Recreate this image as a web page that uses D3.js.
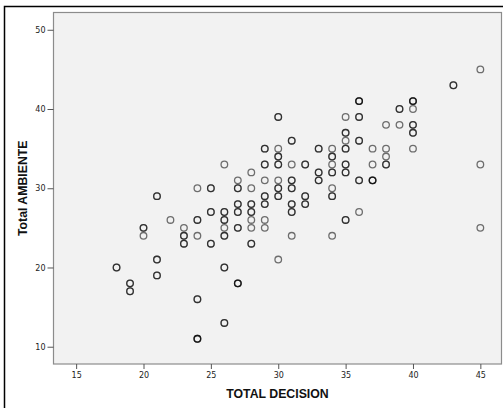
<!DOCTYPE html>
<html>
<head>
<meta charset="utf-8">
<script src="https://cdn.jsdelivr.net/npm/d3@7"></script>
<style>
  body { margin: 0; background: #fff; }
  svg { display: block; }
</style>
</head>
<body>
<div id="chart"></div>
<script>
// one entry per observation: TOTAL DECISION, Total AMBIENTE, how many cases share it
const decision = [18,19,19,20,20,21,21,21,22,23,23,23,24,24,24,24,24,25,25,25,
  26,26,26,26,26,26,26,27,27,27,27,27,27,28,28,28,28,28,28,28,
  29,29,29,29,29,29,29,30,30,30,30,30,30,30,30,31,31,31,31,31,31,31,
  32,32,32,33,33,33,34,34,34,34,34,34,34,35,35,35,35,35,35,35,
  36,36,36,36,36,37,37,37,38,38,38,38,39,39,40,40,40,40,40,43,45,45,45];
const ambiente = [20,18,17,25,24,29,21,19,26,25,24,23,30,26,24,16,11,30,27,23,
  33,27,26,25,24,20,13,31,30,28,27,25,18,32,30,28,27,26,25,23,
  35,33,31,29,28,26,25,39,35,34,33,31,30,29,21,36,33,31,30,28,27,24,
  33,29,28,35,32,31,35,34,33,32,30,29,24,39,37,36,35,33,32,26,
  41,39,36,31,27,35,33,31,38,35,34,33,40,38,41,40,38,37,35,43,45,33,25];
const cases = [2,2,2,2,1,2,2,2,1,1,2,2,1,2,1,2,3,2,2,2,
  1,2,2,1,2,2,2,1,2,2,2,2,3,1,1,2,2,1,1,2,
  2,2,1,2,2,1,1,2,1,2,2,1,2,2,1,2,1,2,2,2,2,1,
  2,2,2,2,2,2,1,2,1,2,1,2,1,1,2,1,2,2,2,2,
  3,2,2,2,1,1,1,3,1,1,1,2,2,1,3,1,2,2,1,2,1,1,1];
const xTicks = [15, 20, 25, 30, 35, 40, 45];
const yTicks = [10, 20, 30, 40, 50];

const W = 503, H = 408;
const plot = { left: 53.5, top: 12.5, right: 501.5, bottom: 364 };

const svg = d3.select("#chart").append("svg")
  .attr("width", W)
  .attr("height", H);

// outer frame
svg.append("rect")
  .attr("x", 4.5).attr("y", 6.5)
  .attr("width", W + 10).attr("height", H + 10)
  .attr("fill", "none")
  .attr("stroke", "#000")
  .attr("stroke-width", 1.5);

const x = d3.scaleLinear().domain([13.32, 46.57]).range([plot.left, plot.right]);
const y = d3.scaleLinear().domain([7.82, 52.18]).range([plot.bottom, plot.top]);

svg.append("rect")
  .attr("x", plot.left).attr("y", plot.top)
  .attr("width", plot.right - plot.left)
  .attr("height", plot.bottom - plot.top)
  .attr("fill", "#f2f2f2")
  .attr("stroke", "#8c8c8c")
  .attr("stroke-width", 1.2);

// axes
const xAxis = svg.append("g")
  .attr("transform", `translate(0,${plot.bottom})`)
  .call(d3.axisBottom(x).tickValues(xTicks).tickSize(5).tickPadding(3));
const yAxis = svg.append("g")
  .attr("transform", `translate(${plot.left},0)`)
  .call(d3.axisLeft(y).tickValues(yTicks).tickSize(6).tickPadding(2));

[xAxis, yAxis].forEach(g => {
  g.select(".domain").remove();
  g.selectAll(".tick line").attr("stroke", "#555");
  g.selectAll(".tick text")
    .attr("fill", "#222")
    .style("font-family", "DejaVu Sans, sans-serif")
    .style("font-size", "8px");
});

// points, drawn once per case so shared values come out darker
const points = [];
decision.forEach((d, i) => {
  for (let k = 0; k < cases[i]; k++) points.push([d, ambiente[i]]);
});

svg.append("g")
  .selectAll("circle")
  .data(points)
  .join("circle")
  .attr("cx", d => x(d[0]))
  .attr("cy", d => y(d[1]))
  .attr("r", 3.3)
  .attr("fill", "none")
  .attr("stroke", "#000")
  .attr("stroke-opacity", 0.55)
  .attr("stroke-width", 1.3);

// axis titles
svg.append("text")
  .attr("x", (plot.left + plot.right) / 2)
  .attr("y", 398)
  .attr("text-anchor", "middle")
  .style("font-family", "Liberation Sans, Arial, sans-serif")
  .style("font-weight", "bold")
  .style("font-size", "12.3px")
  .attr("fill", "#111")
  .text("TOTAL DECISION");

svg.append("text")
  .attr("transform", `translate(27,${y(30)}) rotate(-90)`)
  .attr("text-anchor", "middle")
  .style("font-family", "Liberation Sans, Arial, sans-serif")
  .style("font-weight", "bold")
  .style("font-size", "12.3px")
  .attr("fill", "#111")
  .text("Total AMBIENTE");
</script>
</body>
</html>
